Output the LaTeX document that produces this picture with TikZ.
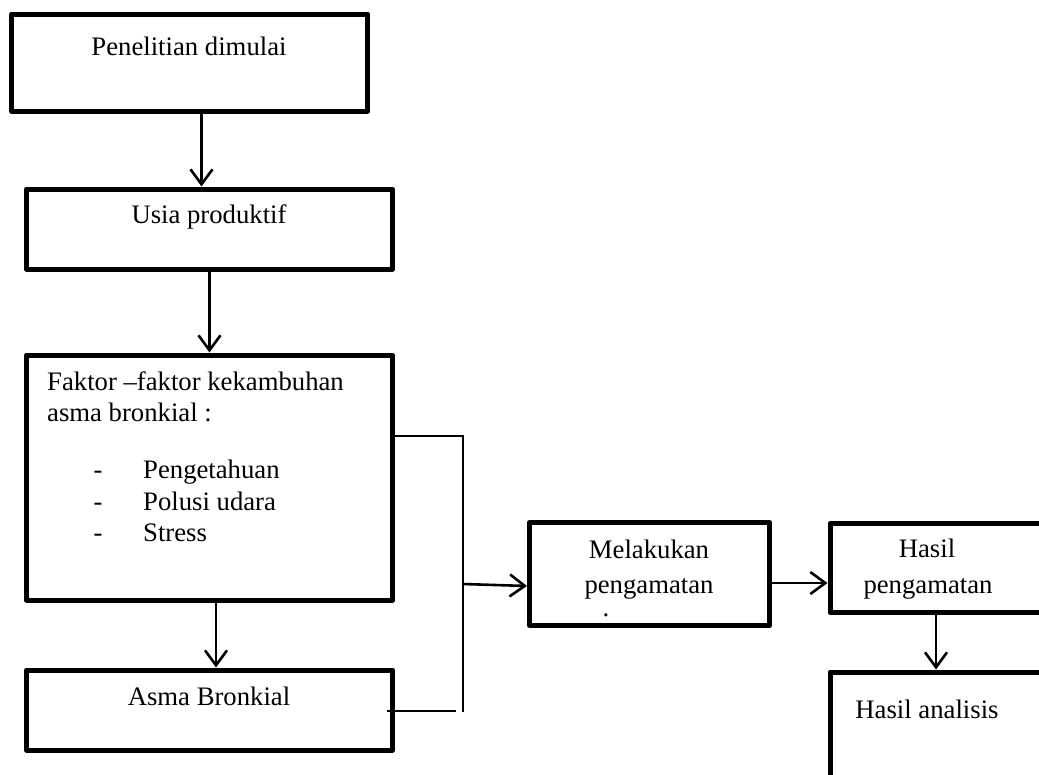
\documentclass[tikz,border=0pt]{standalone}
\usepackage{fontspec}
\setmainfont{Liberation Serif}
\usetikzlibrary{arrows.meta}
\begin{document}
\begin{tikzpicture}[x=1pt,y=-1pt,
  box/.style={draw,line width=5pt,line join=round,inner sep=0pt},
  arr/.style={line width=2.6pt,-{Straight Barb[length=15pt,width=22pt]}},
  thin/.style={line width=2pt},
  txt/.style={anchor=base,inner sep=0pt,font=\fontsize{26.7}{31}\selectfont},
  txtl/.style={txt,anchor=base west}]
\useasboundingbox (0,0) rectangle (1039,774);
\clip (0,0) rectangle (1039,774);
% boxes
\node[box,minimum width=356pt,minimum height=97pt] (b1) at (189.5,62.5) {};
\node[box,minimum width=366pt,minimum height=80pt] (b2) at (209.5,229) {};
\node[box,minimum width=366pt,minimum height=245pt] (b3) at (209.5,477.5) {};
\node[box,minimum width=366pt,minimum height=80pt] (b4) at (209.5,710) {};
\node[box,minimum width=240pt,minimum height=103pt] (b5) at (649.5,574) {};
\node[box,minimum width=220pt,minimum height=89pt] (b6) at (940,568) {};
\node[box,minimum width=220pt,minimum height=148pt] (b7) at (940,746) {};
% texts
\node[txt] (t1) at (189,55) {Penelitian dimulai};
\node[txt] (t2) at (209,223) {Usia produktif};
\node[txtl] (t3a) at (47,390) {Faktor –faktor kekambuhan};
\node[txtl] (t3b) at (47,421) {asma bronkial :};
\node[txt] (d1) at (98,478) {-};
\node[txt] (d2) at (98,510) {-};
\node[txt] (d3) at (98,541) {-};
\node[txtl] (i1) at (143,478) {Pengetahuan};
\node[txtl] (i2) at (143,510) {Polusi udara};
\node[txtl] (i3) at (143,541) {Stress};
\node[txt] (t4) at (209,705) {Asma Bronkial};
\node[txt] (t5a) at (649,558) {Melakukan};
\node[txt] (t5b) at (649,593) {pengamatan};
\node[txt] (t5c) at (606,616) {.};
\node[txt] (t6a) at (927,557) {Hasil};
\node[txt] (t6b) at (928,593) {pengamatan};
\node[txt] (t7) at (927,718) {Hasil analisis};
% connectors
\draw[arr] ([xshift=12pt]b1.south) -- ([xshift=-8pt]b2.north);
\draw[arr] (b2.south) -- (b3.north);
\draw[arr] ([xshift=6.5pt]b3.south) -- ([xshift=6.5pt]b4.north);
\coordinate (jt) at (463,436);
\coordinate (jb) at (463,712);
\coordinate (jm) at (463,584);
\coordinate (bb) at (456,711);
\draw[thin] (b3.east |- jt) -- (jt) -- (jb);
\draw[thin] ([xshift=-8pt]b4.east |- bb) -- (bb);
\draw[arr] (jm) -- ([yshift=-12pt]b5.west);
\draw[arr] ([yshift=-9pt]b5.east) -- ([yshift=-15pt]b6.west);
\draw[arr] ([xshift=-4pt]b6.south) -- ([xshift=-4pt]b7.north);
\end{tikzpicture}
\end{document}
